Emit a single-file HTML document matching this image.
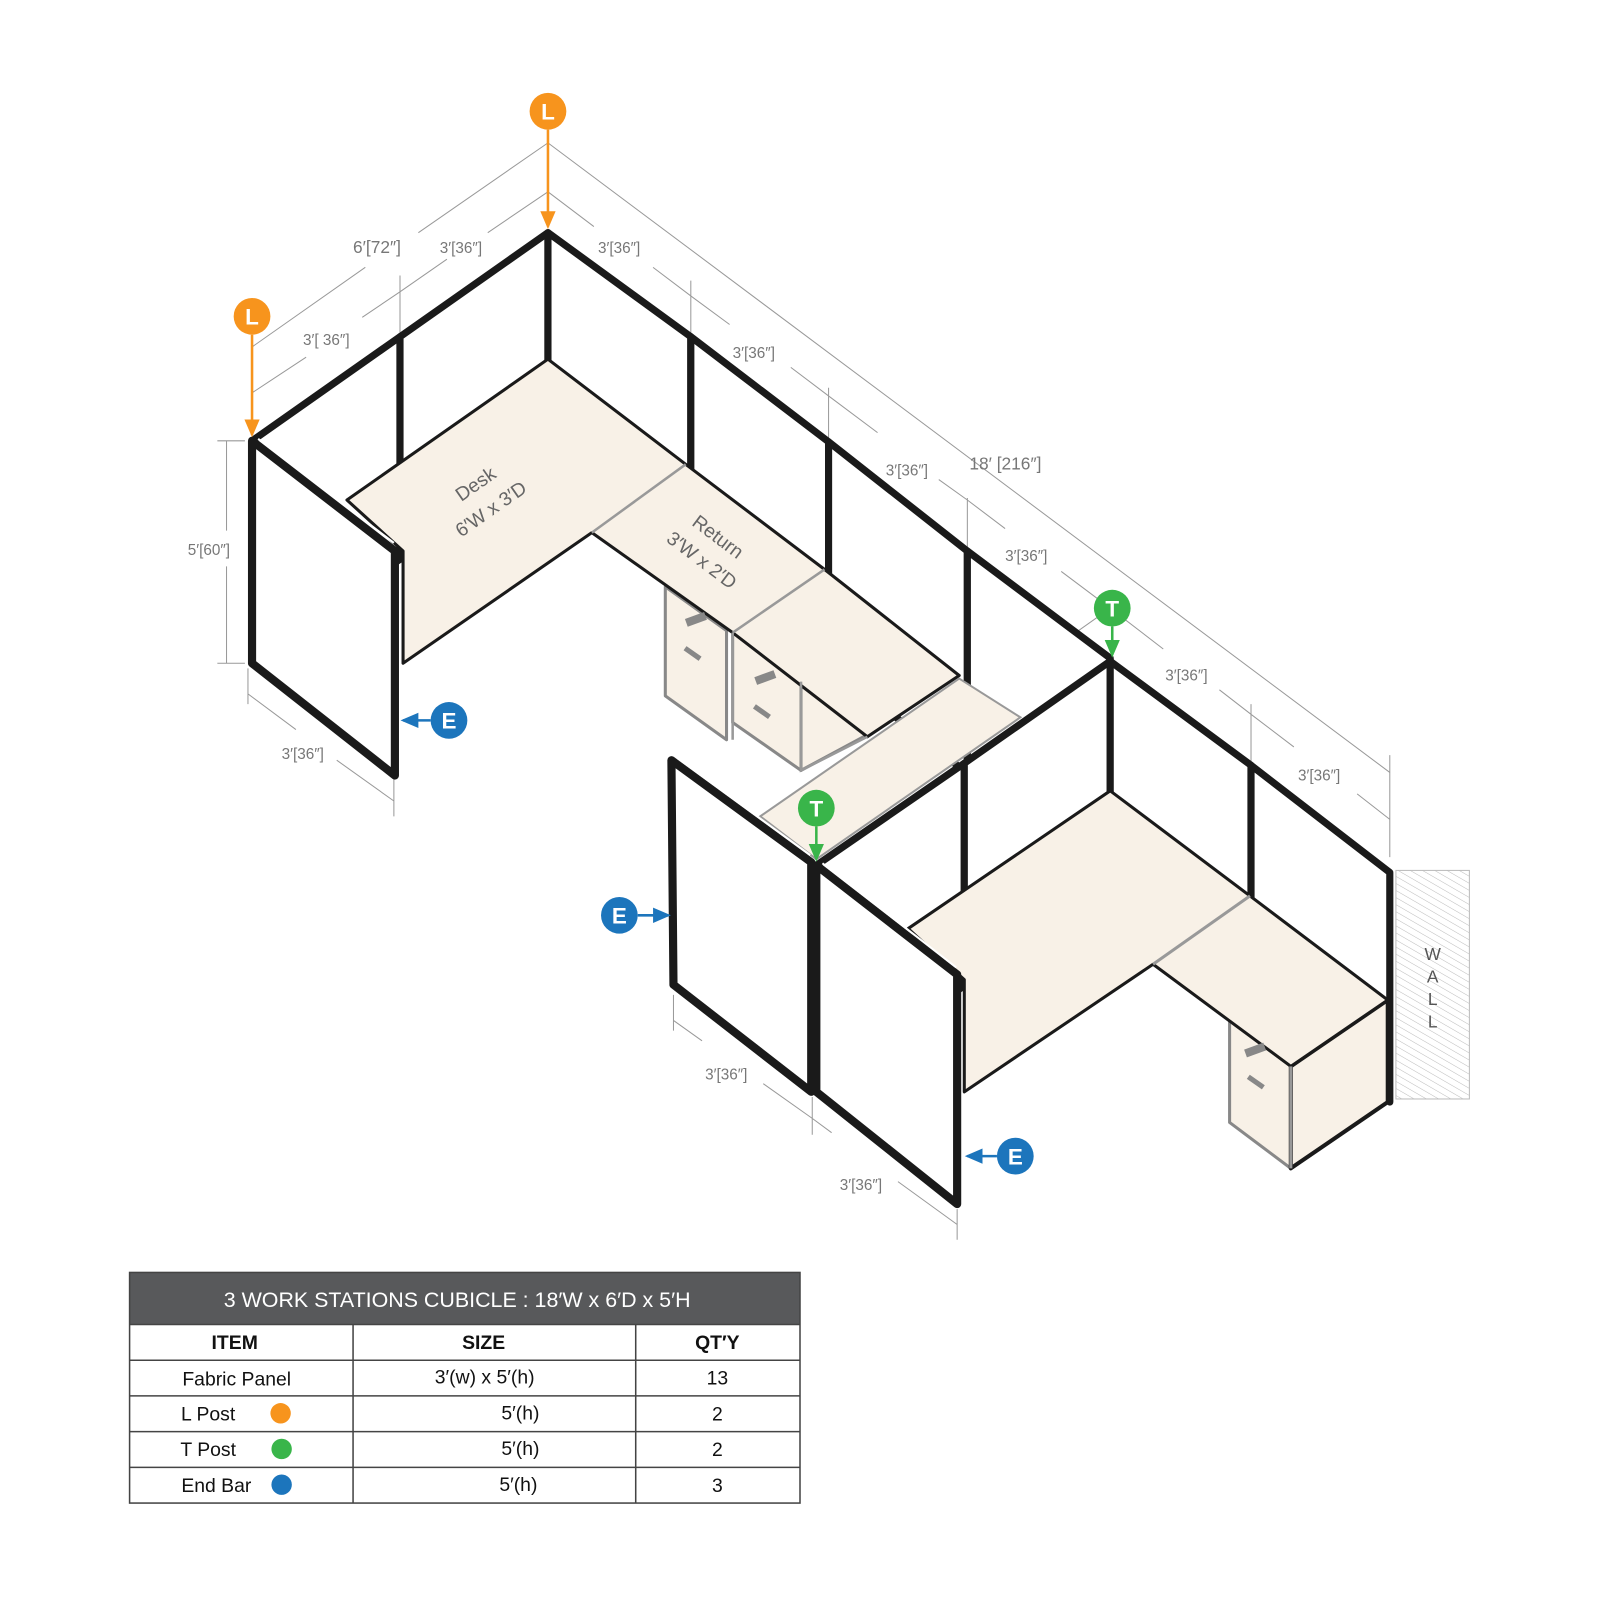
<!DOCTYPE html>
<html><head><meta charset="utf-8"><style>
html,body{margin:0;padding:0;background:#fff}
svg{display:block}
text{font-family:"Liberation Sans",sans-serif}
</style></head><body>
<svg width="1600" height="1600" viewBox="0 0 1568 1568" xmlns="http://www.w3.org/2000/svg">
<defs>
<pattern id="h" width="6" height="6" patternUnits="userSpaceOnUse" patternTransform="rotate(-60)"><line x1="0" y1="0" x2="0" y2="6" stroke="#bbb" stroke-width="1"/></pattern>
<marker id="ao" markerWidth="8" markerHeight="8" refX="6" refY="4" orient="auto"><path d="M0,1 L7,4 L0,7z" fill="#f7941d"/></marker>
<marker id="ag" markerWidth="8" markerHeight="8" refX="6" refY="4" orient="auto"><path d="M0,1 L7,4 L0,7z" fill="#39b54a"/></marker>
<marker id="ab" markerWidth="8" markerHeight="8" refX="6" refY="4" orient="auto"><path d="M0,1 L7,4 L0,7z" fill="#1c75bc"/></marker>
</defs>

<!-- dimension lines -->
<g stroke="#999" stroke-width="1" fill="none">
<path d="M537,140 L410,228 M358,262 L247,340"/>
<path d="M537,140 L1362,757"/>
<path d="M537,188 L478,228 M438,254 L392,286 M392,270 L392,330"/>
<path d="M392,286 L355,311 M300,350 L247,385"/>
<path d="M537,188 L582,222 M640,262 L677,290 M677,275 L677,330 M677,290 L715,318 M775,360 L812,388 M812,380 L812,435 M812,388 L860,424 M920,470 L948,490 M948,488 L948,540 M948,490 L985,518 M1040,560 L1088,596"/>
<path d="M1088,596 L1140,636 M1195,676 L1226,700 M1226,690 L1226,750 M1226,700 L1268,732 M1330,778 L1362,803 M1362,740 L1362,840"/>
<path d="M1088,596 L1040,630 M990,667 L945,700 M945,690 L945,745 M945,700 L900,732 M840,774 L800,800"/>
<path d="M213,432 L240,432 M213,650 L240,650 M222,432 L222,520 M222,555 L222,650"/>
<path d="M243,655 L243,690 M243,680 L290,715 M330,745 L386,785 M386,760 L386,800"/>
<path d="M660,975 L660,1010 M660,1000 L688,1020 M748,1062 L796,1096 M796,1075 L796,1112 M796,1096 L815,1110 M880,1158 L938,1200 M938,1185 L938,1215"/>
</g>
<g fill="#777" font-size="15">
<text x="346" y="248" font-size="17">6′[72″]</text>
<text x="431" y="248">3′[36″]</text>
<text x="586" y="248">3′[36″]</text>
<text x="297" y="338">3′[ 36″]</text>
<text x="718" y="351">3′[36″]</text>
<text x="950" y="460" font-size="17">18′ [216″]</text>
<text x="868" y="466">3′[36″]</text>
<text x="985" y="550">3′[36″]</text>
<text x="970" y="670">3′[36″]</text>
<text x="1142" y="667">3′[36″]</text>
<text x="1272" y="765">3′[36″]</text>
<text x="839" y="763">3′[36″]</text>
<text x="184" y="544">5′[60″]</text>
<text x="276" y="744">3′[36″]</text>
<text x="691" y="1058">3′[36″]</text>
<text x="823" y="1166">3′[36″]</text>
</g>

<!-- wall -->
<rect x="1368" y="853" width="72" height="224" fill="url(#h)" stroke="#bbb"/>
<g fill="#555" font-size="17" text-anchor="middle"><text x="1404" y="941">W</text><text x="1404" y="963">A</text><text x="1404" y="985">L</text><text x="1404" y="1007">L</text></g>

<g stroke="#1a1a1a" stroke-width="7" stroke-linejoin="round" fill="#fff">
<!-- back left wall -->
<path d="M247,432 L392,330 L392,548 L247,650Z"/>
<path d="M392,330 L537,228 L537,446 L392,548Z"/>
<!-- right wall cubicle 1 -->
<path d="M537,228 L677,330 L677,548 L537,446Z"/>
<path d="M677,330 L812,433 L812,651 L677,548Z"/>
<path d="M812,433 L948,540 L948,758 L812,651Z"/>
<path d="M948,540 L1088,645 L1088,863 L948,758Z"/>
</g>

<!-- desk 1 -->
<g stroke="#1a1a1a" stroke-width="3" stroke-linejoin="round">
<path d="M652,575 L712,618 L712,725 L652,682Z" fill="#f8f1e7" stroke="#888"/>
<path d="M718,620 L785,668 L785,755 L718,708Z" fill="#f8f1e7" stroke="#888"/>
<path d="M785,668 L850,722 L850,720 L785,755Z" fill="#f8f1e7" stroke="#888"/>
<path d="M340,490 L537,352 L672,455 L808,558 L940,662 L850,722 L718,620 L580,522 L395,650 L395,540Z" fill="#f8f1e7"/>
</g>
<g stroke="#999" stroke-width="2.5" fill="none">
<path d="M580,522 L672,455 M718,620 L808,558"/>
<path d="M718,620 L718,725 M785,668 L785,755 L850,722"/>
</g>
<g fill="#888"><rect x="670" y="638" width="18" height="5" transform="rotate(35 679 640)"/><rect x="738" y="695" width="18" height="5" transform="rotate(35 747 697)"/><rect x="672" y="603" width="20" height="8" transform="rotate(-20 682 607)"/><rect x="740" y="660" width="20" height="8" transform="rotate(-20 750 664)"/></g>
<text x="0" y="0" fill="#666" font-size="19" transform="translate(452,492) rotate(-35)">Desk</text>
<text x="0" y="0" fill="#666" font-size="19" transform="translate(452,527) rotate(-35)">6′W x 3′D</text>
<text x="0" y="0" fill="#666" font-size="19" transform="translate(677,514) rotate(37)">Return</text>
<text x="0" y="0" fill="#666" font-size="19" transform="translate(652,530) rotate(37)">3′W x 2′D</text>
<!-- middle strip -->
<path d="M745,800 L940,665 L1000,703 L800,842Z" fill="#f8f1e7" stroke="#999" stroke-width="2"/>

<g stroke="#1a1a1a" stroke-width="7" stroke-linejoin="round" fill="#fff">
<!-- lower wall (back of cubicle 2) -->
<path d="M800,848 L945,748 L945,966 L800,1066Z"/>
<path d="M945,748 L1088,648 L1088,866 L945,966Z"/>
<!-- right wall cubicle 3 -->
<path d="M1088,648 L1226,750 L1226,968 L1088,866Z"/>
<path d="M1226,750 L1362,855 L1362,1080 L1226,968Z"/>
</g>

<!-- desk 2 -->
<g stroke-linejoin="round">
<path d="M1205,1000 L1265,1045 L1265,1145 L1205,1100Z" fill="#f8f1e7" stroke="#888" stroke-width="3"/>
<path d="M1265,1045 L1360,980 L1360,1080 L1265,1145Z" fill="#f8f1e7" stroke="#1a1a1a" stroke-width="4"/>
<path d="M890,910 L1088,775 L1225,878 L1360,980 L1265,1045 L1130,945 L945,1070 L945,960Z" fill="#f8f1e7" stroke="#1a1a1a" stroke-width="3"/>
<path d="M1130,945 L1225,878 M1265,1045 L1265,1145" stroke="#999" stroke-width="3" fill="none"/>
<rect x="1222" y="1058" width="18" height="5" fill="#888" transform="rotate(35 1231 1060)"/>
<rect x="1220" y="1025" width="20" height="8" fill="#888" transform="rotate(-20 1230 1029)"/>
</g>

<!-- front panels -->
<g stroke="#1a1a1a" stroke-width="8" stroke-linejoin="round" fill="#fff">
<path d="M247,432 L387,540 L387,760 L247,650Z"/>
<path d="M658,745 L795,845 L795,1070 L660,965Z"/>
<path d="M800,848 L938,955 L938,1180 L800,1070Z"/>
</g>
<g stroke="#fff" stroke-width="2" fill="none">
<path d="M253,430 L386,532 M664,743 L794,838 M806,846 L937,948"/>
</g>

<!-- callouts -->
<g stroke-width="2.5" fill="none">
<line x1="537" y1="127" x2="537" y2="222" stroke="#f7941d" marker-end="url(#ao)"/>
<line x1="247" y1="328" x2="247" y2="426" stroke="#f7941d" marker-end="url(#ao)"/>
<line x1="1090" y1="614" x2="1090" y2="642" stroke="#39b54a" marker-end="url(#ag)"/>
<line x1="800" y1="810" x2="800" y2="842" stroke="#39b54a" marker-end="url(#ag)"/>
<line x1="422" y1="706" x2="395" y2="706" stroke="#1c75bc" marker-end="url(#ab)"/>
<line x1="625" y1="897" x2="655" y2="897" stroke="#1c75bc" marker-end="url(#ab)"/>
<line x1="977" y1="1133" x2="948" y2="1133" stroke="#1c75bc" marker-end="url(#ab)"/>
</g>
<g font-size="22" font-weight="bold" fill="#fff" text-anchor="middle">
<circle cx="537" cy="109" r="18" fill="#f7941d"/><text x="537" y="117">L</text>
<circle cx="247" cy="310" r="18" fill="#f7941d"/><text x="247" y="318">L</text>
<circle cx="1090" cy="596" r="18" fill="#39b54a"/><text x="1090" y="604">T</text>
<circle cx="800" cy="792" r="18" fill="#39b54a"/><text x="800" y="800">T</text>
<circle cx="440" cy="706" r="18" fill="#1c75bc"/><text x="440" y="714">E</text>
<circle cx="607" cy="897" r="18" fill="#1c75bc"/><text x="607" y="905">E</text>
<circle cx="995" cy="1133" r="18" fill="#1c75bc"/><text x="995" y="1141">E</text>
</g>

<!-- table -->
<rect x="127" y="1247" width="657" height="51" fill="#58595b"/>
<text x="448" y="1281" fill="#fff" font-size="21" text-anchor="middle">3 WORK STATIONS  CUBICLE :  18′W x 6′D x 5′H</text>
<g stroke="#444" stroke-width="1.5" fill="none">
<rect x="127" y="1247" width="657" height="226"/>
<path d="M127,1298 H784 M127,1333 H784 M127,1368 H784 M127,1403 H784 M127,1438 H784 M346,1298 V1473 M623,1298 V1473"/>
</g>
<g font-size="19" fill="#111" text-anchor="middle">
<text x="230" y="1322" font-weight="bold">ITEM</text>
<text x="474" y="1322" font-weight="bold">SIZE</text>
<text x="703" y="1322" font-weight="bold">QT′Y</text>
<text x="232" y="1358">Fabric Panel</text>
<text x="475" y="1356">3′(w) x 5′(h)</text>
<text x="703" y="1357">13</text>
<text x="204" y="1392">L Post</text><circle cx="275" cy="1385" r="10" fill="#f7941d"/>
<text x="510" y="1391">5′(h)</text><text x="703" y="1392">2</text>
<text x="204" y="1427">T Post</text><circle cx="276" cy="1420" r="10" fill="#39b54a"/>
<text x="510" y="1426">5′(h)</text><text x="703" y="1427">2</text>
<text x="212" y="1462">End  Bar</text><circle cx="276" cy="1455" r="10" fill="#1c75bc"/>
<text x="508" y="1461">5′(h)</text><text x="703" y="1462">3</text>
</g>
</svg>
</body></html>
